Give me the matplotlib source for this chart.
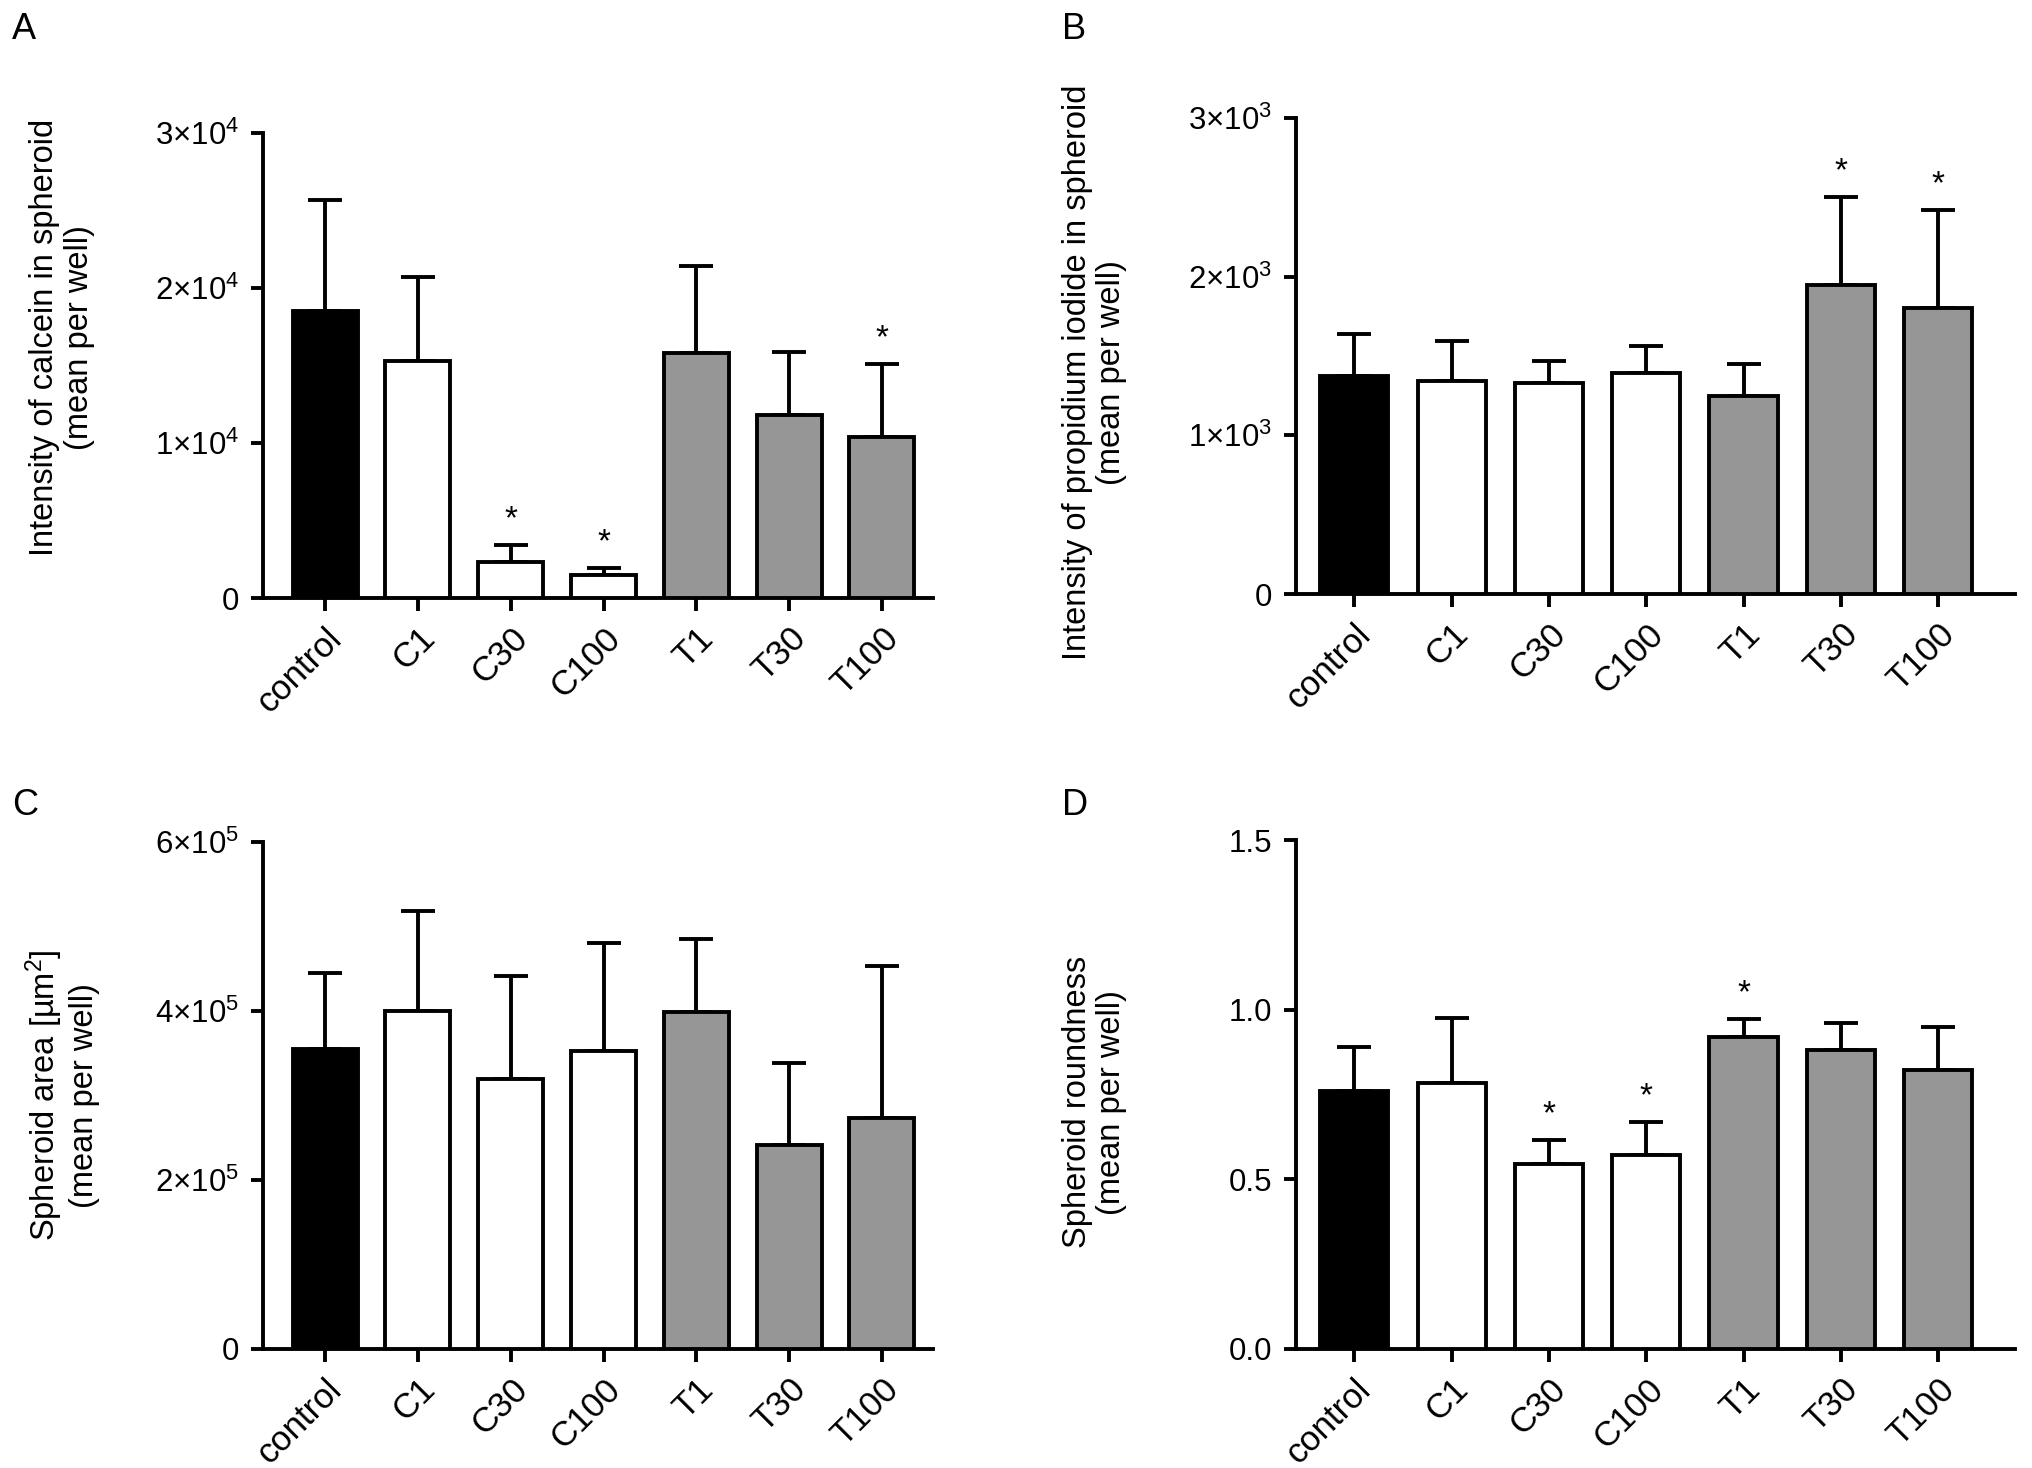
import matplotlib
matplotlib.use("Agg")
import matplotlib.pyplot as plt
import numpy as np

plt.rcParams['font.family'] = ['Liberation Sans', 'DejaVu Sans']
plt.rcParams['mathtext.fontset'] = 'custom'
plt.rcParams['mathtext.rm'] = 'Liberation Sans'
plt.rcParams['mathtext.it'] = 'Liberation Sans:italic'
plt.rcParams['mathtext.bf'] = 'Liberation Sans:bold'

categories = ["control", "C1", "C30", "C100", "T1", "T30", "T100"]
bar_colors = ["#000000", "#ffffff", "#ffffff", "#ffffff", "#969696", "#969696", "#969696"]

# Panel A: calcein intensity
calcein_mean = [18500, 15300, 2300, 1500, 15800, 11800, 10400]
calcein_err = [7200, 5400, 1100, 450, 5600, 4100, 4700]
calcein_sig = [False, False, True, True, False, False, True]
calcein_ticks = [0, 10000, 20000, 30000]
calcein_ticklabels = ["0", "1×10$^4$", "2×10$^4$", "3×10$^4$"]

# Panel B: propidium iodide intensity
pi_mean = [1375, 1345, 1330, 1390, 1245, 1950, 1800]
pi_err = [265, 250, 140, 175, 205, 550, 620]
pi_sig = [False, False, False, False, False, True, True]
pi_ticks = [0, 1000, 2000, 3000]
pi_ticklabels = ["0", "1×10$^3$", "2×10$^3$", "3×10$^3$"]

# Panel C: spheroid area
area_mean = [355000, 400000, 320000, 353000, 399000, 241000, 273000]
area_err = [90000, 118000, 122000, 127000, 86000, 97000, 180000]
area_sig = [False] * 7
area_ticks = [0, 200000, 400000, 600000]
area_ticklabels = ["0", "2×10$^5$", "4×10$^5$", "6×10$^5$"]

# Panel D: spheroid roundness
round_mean = [0.76, 0.785, 0.545, 0.573, 0.92, 0.88, 0.823]
round_err = [0.13, 0.19, 0.07, 0.095, 0.053, 0.08, 0.127]
round_sig = [False, False, True, True, True, False, False]
round_ticks = [0.0, 0.5, 1.0, 1.5]
round_ticklabels = ["0.0", "0.5", "1.0", "1.5"]

W, H = 2032, 1468
fig = plt.figure(figsize=(W / 100, H / 100), dpi=100)

def axes_px(l, r, t, b):
    return fig.add_axes([l / W, 1 - b / H, (r - l) / W, (b - t) / H])

LW = 2.8
YTFS = 22.5
XTFS = 25
YLFS = 23.5

def panel(ax, means, errs, sig, ticks, ticklabels, ylabel, xlim, label_xy):
    x = np.arange(len(categories))
    ax.bar(x, means, width=0.7, color=bar_colors, edgecolor="black", linewidth=LW, zorder=3)
    ax.errorbar(x, means, yerr=[np.zeros(len(errs)), errs], fmt="none", ecolor="black",
                elinewidth=LW, capsize=12, capthick=LW, zorder=2)
    for xi, m, e, s in zip(x, means, errs, sig):
        if s:
            ax.annotate("*", (xi, m + e), xytext=(0, 7), textcoords="offset points",
                        ha="center", va="bottom", fontsize=24)
    ax.set_xlim(*xlim)
    ax.set_ylim(ticks[0], ticks[-1])
    ax.set_yticks(ticks)
    ax.set_yticklabels(ticklabels, fontsize=YTFS)
    ax.set_xticks(x)
    ax.set_xticklabels(categories, rotation=45, ha="right", rotation_mode="anchor", fontsize=XTFS)
    for s in ["top", "right"]:
        ax.spines[s].set_visible(False)
    for s in ["left", "bottom"]:
        ax.spines[s].set_linewidth(LW)
    ax.spines["left"].set_bounds(ticks[0], ticks[-1])
    ax.tick_params(axis="y", direction="out", length=9, width=LW, pad=8)
    ax.tick_params(axis="x", direction="out", length=9, width=LW, pad=8)
    ax.set_ylabel(ylabel, fontsize=YLFS, va="center", ha="center", linespacing=1.15)
    ax.yaxis.set_label_coords(*label_xy)

axA = axes_px(263, 933, 133, 598)
panel(axA, calcein_mean, calcein_err, calcein_sig, calcein_ticks, calcein_ticklabels,
      "Intensity of calcein in spheroid\n(mean per well)", (-0.67, 6.55), (-0.30, 0.56))

axB = axes_px(1296, 2015, 118, 594)
panel(axB, pi_mean, pi_err, pi_sig, pi_ticks, pi_ticklabels,
      "Intensity of propidium iodide in spheroid\n(mean per well)", (-0.6, 6.79), (-0.28, 0.465))

axC = axes_px(263, 933, 842, 1349)
panel(axC, area_mean, area_err, area_sig, area_ticks, area_ticklabels,
      "Spheroid area [\u00b5m$^2$]\n(mean per well)", (-0.67, 6.55), (-0.30, 0.50))

axD = axes_px(1296, 2015, 840, 1349)
panel(axD, round_mean, round_err, round_sig, round_ticks, round_ticklabels,
      "Spheroid roundness\n(mean per well)", (-0.6, 6.79), (-0.28, 0.485))

for letter, (px, py) in zip("ABCD", [(12, 12), (1062, 12), (12, 788), (1062, 788)]):
    fig.text(px / W, 1 - py / H, letter, fontsize=26, ha="left", va="top")

fig.savefig("out.png", dpi=100, facecolor="white")
